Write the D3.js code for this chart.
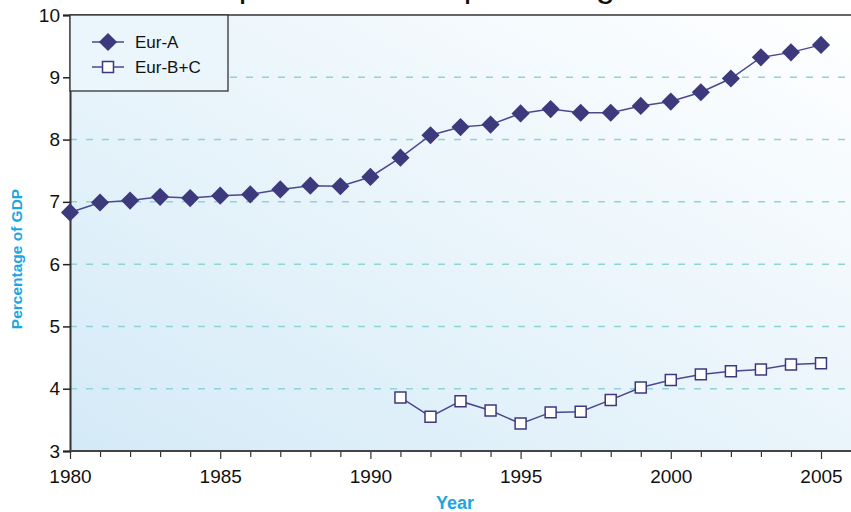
<!DOCTYPE html>
<html><head><meta charset="utf-8">
<script src="https://cdn.jsdelivr.net/npm/d3@7"></script>
<style>body{margin:0;background:#fff}svg{display:block;font-family:"Liberation Sans",Arial,sans-serif}</style>
</head><body><svg id="c" width="851" height="512"></svg>
<script>
const years = d3.range(1980, 2006);
const eurA = [6.83,6.99,7.02,7.08,7.06,7.10,7.12,7.20,7.26,7.25,7.40,7.71,8.07,8.20,8.24,8.42,8.49,8.43,8.43,8.54,8.61,8.76,8.98,9.32,9.40,9.52];
const yearsBC = d3.range(1991, 2006);
const eurBC = [3.86,3.55,3.80,3.65,3.44,3.62,3.63,3.82,4.02,4.14,4.23,4.28,4.31,4.39,4.41];
const yTicks = [3,4,5,6,7,8,9,10];
const xTickLabels = [1980,1985,1990,1995,2000,2005];
const seriesNames = ["Eur-A","Eur-B+C"];
const titleText = "Health expenditure as a percentage of GDP";

const svg = d3.select("#c");
const L = 70, R = 851, T = 15, B = 451;
const x = d3.scaleLinear().domain([1980, 2005]).range([L, 821]);
const y = d3.scaleLinear().domain([3, 10]).range([B, T]);

const defs = svg.append("defs");
const g = defs.append("linearGradient").attr("id","bg").attr("x1",0).attr("y1",1).attr("x2",1).attr("y2",0);
g.append("stop").attr("offset","0%").attr("stop-color","#d4eaf7");
g.append("stop").attr("offset","100%").attr("stop-color","#ffffff");

svg.append("text").attr("x",425).attr("y",-3).attr("text-anchor","middle")
  .attr("font-size",34).attr("fill","#111").text(titleText);

svg.append("rect").attr("x",L).attr("y",T).attr("width",R-L).attr("height",B-T).attr("fill","url(#bg)");

// grid
svg.append("g").selectAll("line").data(yTicks.filter(d=>d>3 && d<10)).join("line")
  .attr("x1",L).attr("x2",R).attr("y1",d=>y(d)).attr("y2",d=>y(d))
  .attr("stroke","#8fd3d6").attr("stroke-width",1.5).attr("stroke-dasharray","7,9");

svg.append("line").attr("x1",L).attr("x2",R).attr("y1",T).attr("y2",T).attr("stroke","#333").attr("stroke-width",1.5);

// axes
const yAxis = d3.axisLeft(y).tickValues(yTicks).tickSize(7).tickPadding(3).tickFormat(d3.format("d"));
const ya = svg.append("g").attr("transform",`translate(${L},0)`).call(yAxis);
ya.select(".domain").attr("stroke","#333").attr("stroke-width",2);
ya.selectAll(".tick line").attr("stroke","#222").attr("stroke-width",1.5);
ya.selectAll("text").attr("font-size",19).attr("fill","#111").attr("font-family","Liberation Sans, Arial");

const xAxis = d3.axisBottom(x).tickValues(years).tickSize(7).tickPadding(12)
  .tickFormat(d => xTickLabels.includes(d) ? d : "");
const xa = svg.append("g").attr("transform",`translate(0,${B})`).call(xAxis);
xa.select(".domain").remove();
xa.append("line").attr("x1",L).attr("x2",R).attr("stroke","#444").attr("stroke-width",2);
xa.selectAll(".tick line").attr("stroke","#333").attr("stroke-width",1.2)
  .attr("y2", d => xTickLabels.includes(d) ? 8 : 6);
xa.selectAll("text").attr("font-size",19).attr("fill","#111").attr("font-family","Liberation Sans, Arial");

// axis titles
svg.append("text").attr("transform","translate(22,259) rotate(-90)").attr("text-anchor","middle")
  .attr("font-size",15.5).attr("font-weight","bold").attr("fill","#1ba6e3").text("Percentage of GDP");
svg.append("text").attr("x",455).attr("y",509).attr("text-anchor","middle")
  .attr("font-size",18).attr("font-weight","bold").attr("fill","#1ba6e3").text("Year");

const lineCol = "#4b4890", mk = "#3c3a7c";
const line = d3.line().x(d=>x(d[0])).y(d=>y(d[1]));
const dA = years.map((yr,i)=>[yr,eurA[i]]);
const dB = yearsBC.map((yr,i)=>[yr,eurBC[i]]);
svg.append("path").datum(dA).attr("d",line).attr("fill","none").attr("stroke",lineCol).attr("stroke-width",1.5);
svg.append("path").datum(dB).attr("d",line).attr("fill","none").attr("stroke",lineCol).attr("stroke-width",1.5);

const diamond = d3.symbol().type(d3.symbolDiamond2).size(210);
const square = d3.symbol().type(d3.symbolSquare).size(120);
svg.append("g").selectAll("path").data(dA).join("path")
  .attr("transform",d=>`translate(${x(d[0])},${y(d[1])})`).attr("d",diamond).attr("fill",mk);
svg.append("g").selectAll("path").data(dB).join("path")
  .attr("transform",d=>`translate(${x(d[0])},${y(d[1])})`).attr("d",square)
  .attr("fill","#fff").attr("stroke",mk).attr("stroke-width",1.5);

// legend
const lg = svg.append("g");
lg.append("rect").attr("x",L).attr("y",T).attr("width",158).attr("height",76)
  .attr("fill","#eaf5fc").attr("stroke","#333").attr("stroke-width",1.3);
const items = [{n:seriesNames[0], s:diamond, f:mk, st:"none"},{n:seriesNames[1], s:square, f:"#fff", st:mk}];
items.forEach((it,i)=>{
  const cy = 42 + i*25;
  lg.append("line").attr("x1",92).attr("x2",124).attr("y1",cy).attr("y2",cy).attr("stroke",lineCol).attr("stroke-width",1.5);
  lg.append("path").attr("transform",`translate(108,${cy})`).attr("d",it.s).attr("fill",it.f).attr("stroke",it.st).attr("stroke-width",1.5);
  lg.append("text").attr("x",135).attr("y",cy+6).attr("font-size",17).attr("fill","#111").text(it.n);
});
</script></body></html>
